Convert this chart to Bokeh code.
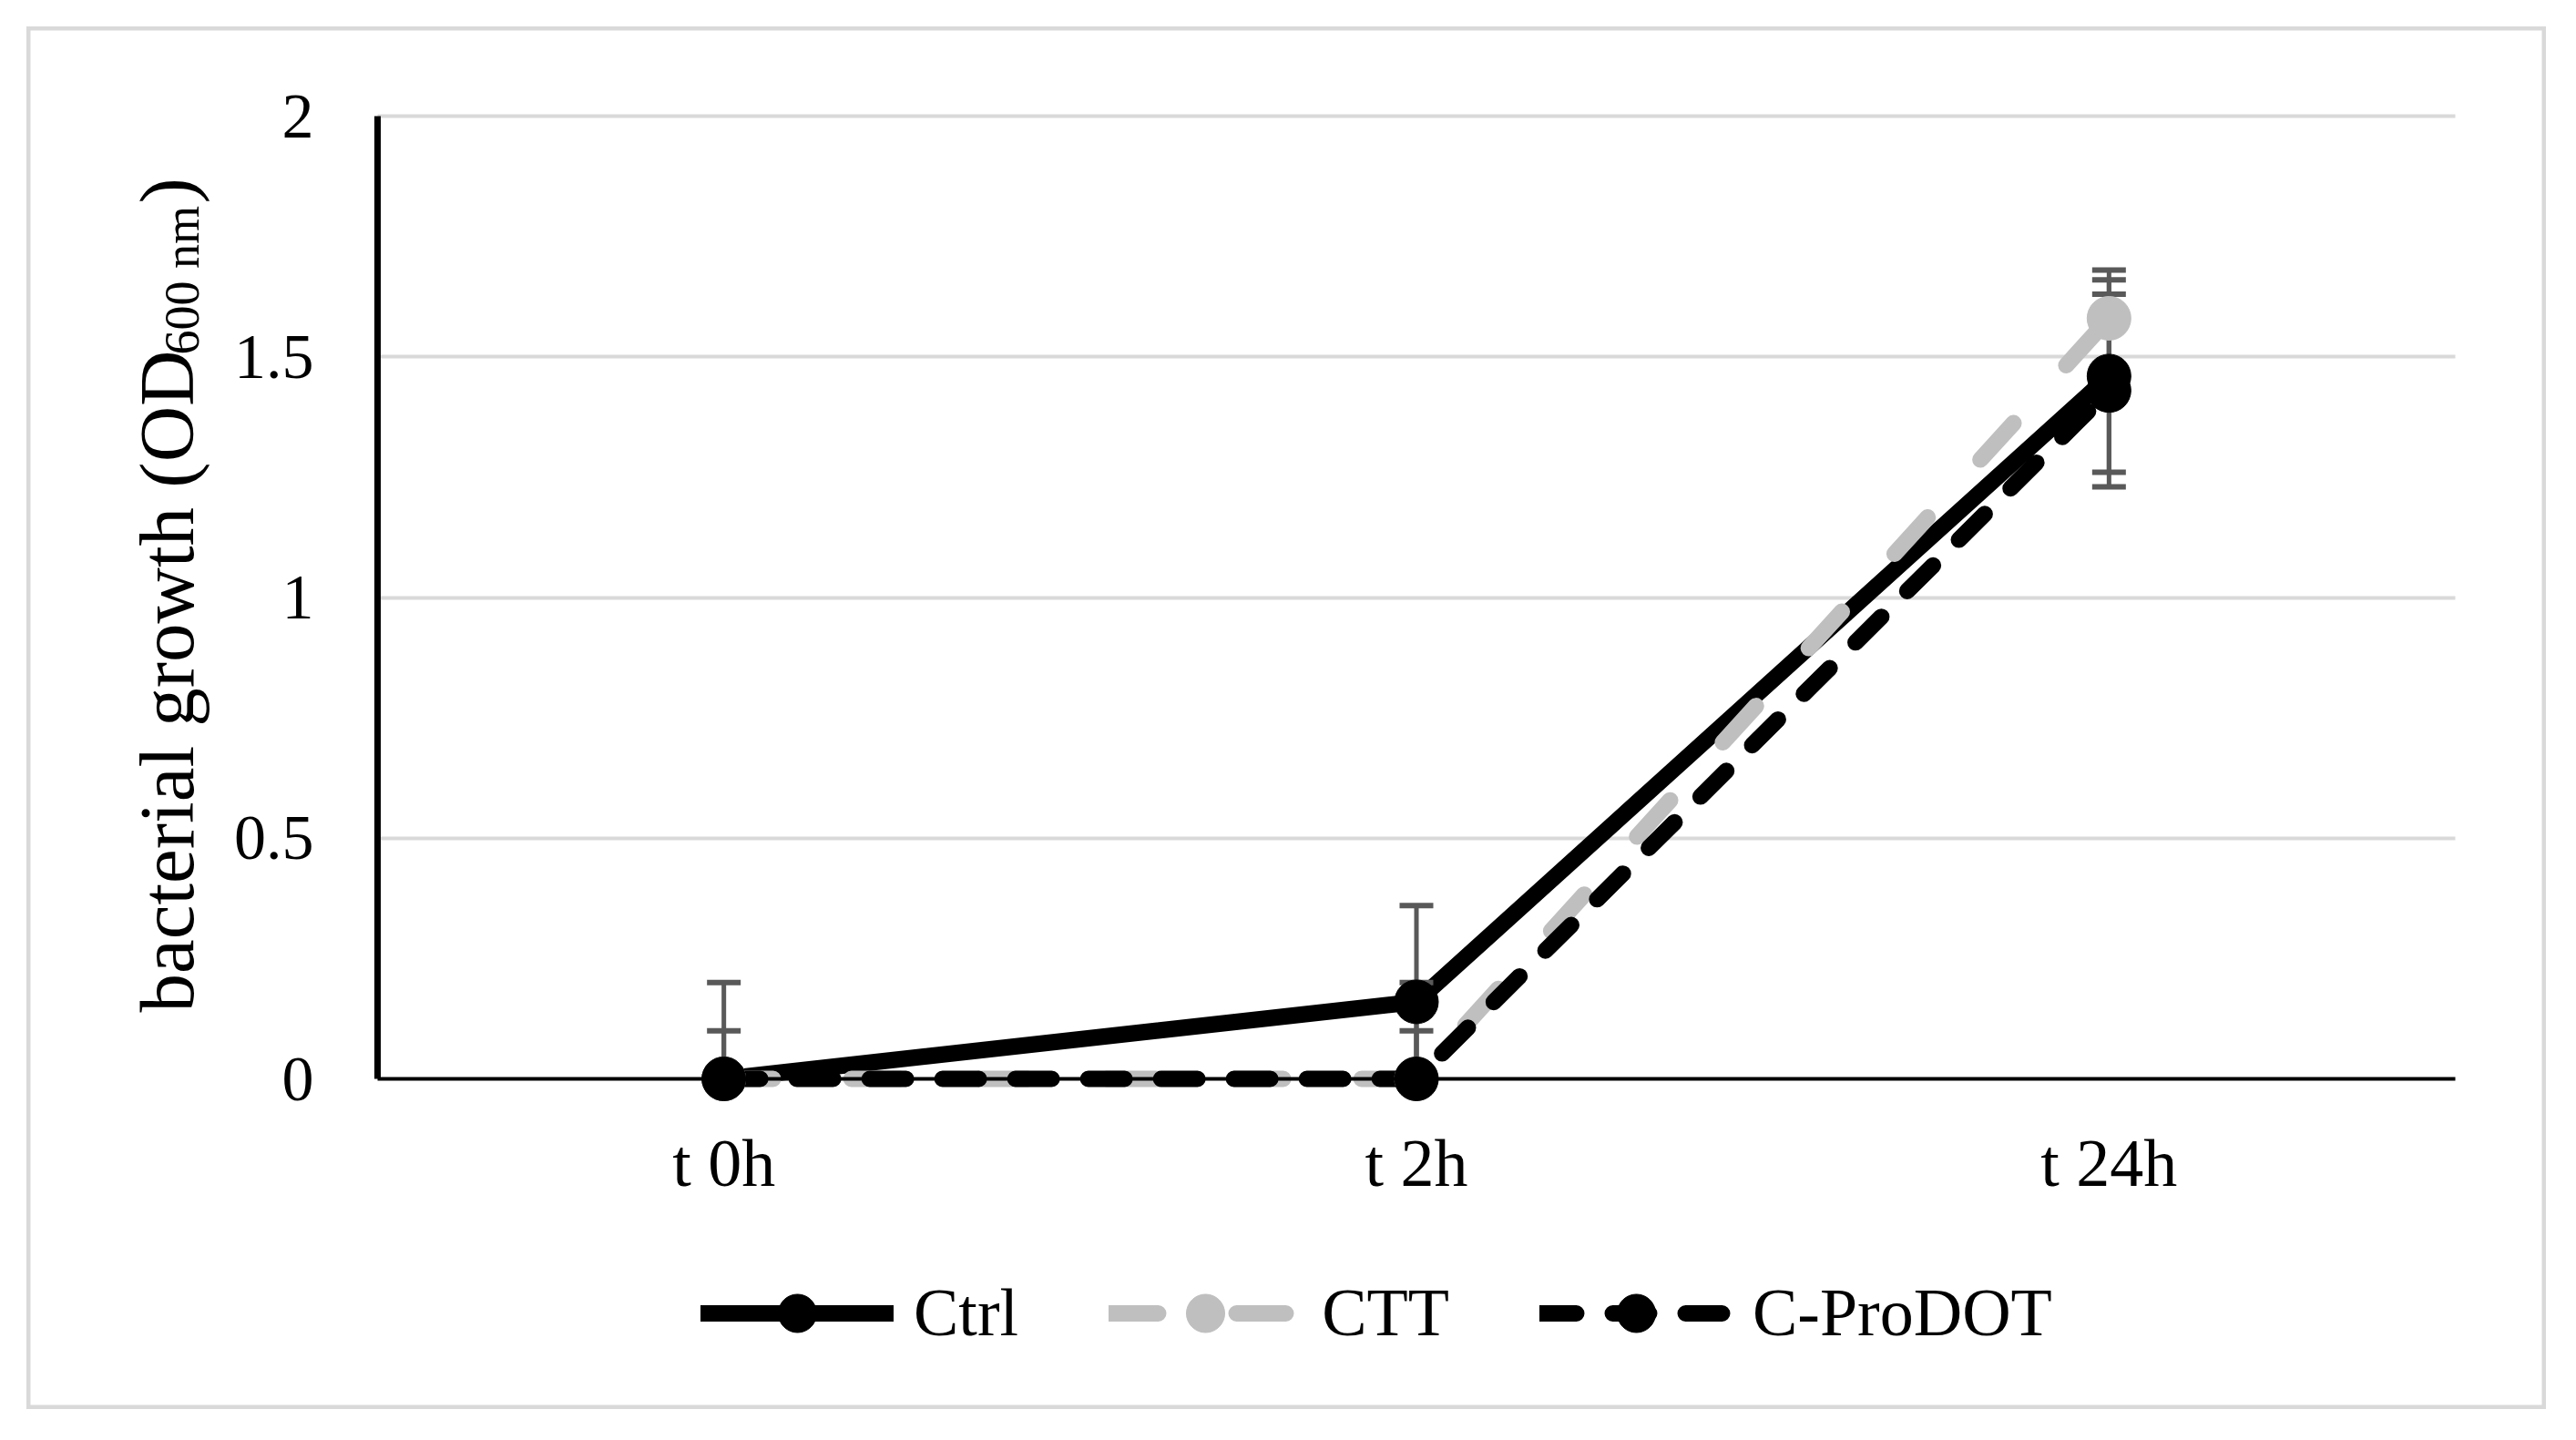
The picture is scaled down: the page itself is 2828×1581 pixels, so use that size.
import numpy as np
from bokeh.plotting import figure
from bokeh.models import (ColumnDataSource, Range1d, FixedTicker,
                          Legend, LegendItem, Label)
from bokeh.embed import file_html
from bokeh.resources import INLINE

# ---------------- data ----------------
categories = ["t 0h", "t 2h", "t 24h"]
series_names = ["Ctrl", "CTT", "C-ProDOT"]
ctrl = [0.0, 0.16, 1.46]
ctrl_err = [0.2, 0.2, 0.2]
ctt = [0.0, 0.0, 1.58]
ctt_err = [0.1, 0.2, 0.1]
cprodot = [0.0, 0.0, 1.43]
cprodot_err = [0.0, 0.1, 0.2]
y_ticks = [0, 0.5, 1, 1.5, 2]
y_tick_labels = ["0", "0.5", "1", "1.5", "2"]
y_title_main = "bacterial growth (OD"
y_title_sub = "600 nm"
y_title_end = ")"

# ---------------- layout / styles ----------------
FONT = "Liberation Serif"
BLACK = "#000000"
GRAY = "#BFBFBF"
ERR = "#595959"
GRID = "#D9D9D9"
LW = 18
MSIZE = 48

W, H = 2766, 1518                       # figure (outer chart box)
PL, PR, PT, PB = 385, 2666, 98, 1155     # plot area inside the figure, px
n_cat = len(categories)
y_min, y_max = y_ticks[0], y_ticks[-1]
ux = (PR - PL) / n_cat
uy = (PB - PT) / (y_max - y_min)
x_lo, x_hi = -0.5, n_cat - 0.5
x_range = Range1d(x_lo - PL / ux, x_hi + (W - PR) / ux)
y_range = Range1d(y_min - (H - PB) / uy, y_max + PT / uy)

p = figure(x_range=x_range, y_range=y_range, width=W, height=H,
           output_backend="svg", toolbar_location=None, title=None,
           min_border=0)
p.margin = (29, 0, 0, 29)
p.background_fill_color = "white"
p.border_fill_color = "white"
p.outline_line_color = GRID
p.outline_line_width = 8

x_pos = list(range(n_cat))

# grid
p.xgrid.grid_line_color = None
yg = p.ygrid[0]
yg.ticker = FixedTicker(ticks=y_ticks[1:])
yg.grid_line_color = GRID
yg.grid_line_width = 4
if "cross_bounds" in yg.properties():
    yg.cross_bounds = (x_lo, x_hi)
else:
    yg.grid_line_color = None
    p.segment(x0=[x_lo] * 4, x1=[x_hi] * 4, y0=y_ticks[1:], y1=y_ticks[1:],
              line_color=GRID, line_width=4)

# axes (drawn at the plot-area edges)
xa = p.xaxis[0]
xa.fixed_location = y_min
xa.bounds = (x_lo, x_hi)
xa.ticker = FixedTicker(ticks=x_pos)
xa.major_label_overrides = {i: c for i, c in zip(x_pos, categories)}
xa.axis_line_color = BLACK
xa.axis_line_width = 4
xa.major_tick_line_color = None
xa.minor_tick_line_color = None
xa.major_tick_in = 0
xa.major_tick_out = 0
xa.major_label_text_font = FONT
xa.major_label_text_font_size = "74px"
xa.major_label_text_color = BLACK
xa.major_label_standoff = 51

ya = p.yaxis[0]
ya.fixed_location = x_lo
ya.bounds = (y_min, y_max)
ya.ticker = FixedTicker(ticks=y_ticks)
ya.major_label_overrides = {t: l for t, l in zip(y_ticks, y_tick_labels)}
ya.axis_line_color = BLACK
ya.axis_line_width = 7
ya.major_tick_line_color = None
ya.minor_tick_line_color = None
ya.major_tick_in = 0
ya.major_tick_out = 0
ya.major_label_text_font = FONT
ya.major_label_text_font_size = "70px"
ya.major_label_text_color = BLACK
ya.major_label_standoff = 70

# ---------------- sources ----------------
def src(vals):
    return ColumnDataSource(dict(x=x_pos, y=vals))

s_ctrl, s_ctt, s_cp = src(ctrl), src(ctt), src(cprodot)

# lines
l_ctrl = p.line("x", "y", source=s_ctrl, line_color=BLACK, line_width=LW,
                line_join="round", line_cap="round")
l_ctt = p.line("x", "y", source=s_ctt, line_color=GRAY, line_width=LW,
               line_dash="54 86", line_join="round", line_cap="round")
l_cp = p.line("x", "y", source=s_cp, line_color=BLACK, line_width=LW,
              line_dash="40 40", line_join="round", line_cap="round")

# error bars (clipped at the axis minimum, as in the original chart)
e_x, e_lo, e_hi = [], [], []
cap_x, cap_y = [], []
for vals, errs in ((ctrl, ctrl_err), (ctt, ctt_err), (cprodot, cprodot_err)):
    for xi, v, e in zip(x_pos, vals, errs):
        if e <= 0:
            continue
        lo, hi = v - e, v + e
        e_x.append(xi)
        e_lo.append(max(lo, y_min))
        e_hi.append(hi)
        cap_x.append(xi)
        cap_y.append(hi)
        if lo >= y_min:
            cap_x.append(xi)
            cap_y.append(lo)

es = ColumnDataSource(dict(x=e_x, lo=e_lo, hi=e_hi))
p.segment(x0="x", y0="lo", x1="x", y1="hi", source=es,
          line_color=ERR, line_width=5)
cs = ColumnDataSource(dict(x=cap_x, y=cap_y))
p.scatter("x", "y", source=cs, marker="dash", size=37,
          line_color=ERR, line_width=6)

# markers
m_ctrl = p.scatter("x", "y", source=s_ctrl, marker="circle", size=MSIZE,
                   fill_color=BLACK, line_color=BLACK)
m_ctt = p.scatter("x", "y", source=s_ctt, marker="circle", size=MSIZE,
                  fill_color=GRAY, line_color=GRAY)
m_cp = p.scatter("x", "y", source=s_cp, marker="circle", size=MSIZE,
                 fill_color=BLACK, line_color=BLACK)

# legend under the category axis
legend = Legend(items=[LegendItem(label=series_names[0], renderers=[l_ctrl, m_ctrl]),
                       LegendItem(label=series_names[1], renderers=[l_ctt, m_ctt]),
                       LegendItem(label=series_names[2], renderers=[l_cp, m_cp])],
                orientation="horizontal", location=(740, 53),
                glyph_width=212, glyph_height=105, label_height=105,
                label_standoff=22, spacing=99, padding=0, margin=0,
                border_line_color=None, background_fill_alpha=0,
                label_text_font=FONT, label_text_font_size="74px",
                label_text_color=BLACK, label_text_baseline="middle")
p.add_layout(legend, "center")

# y title with subscript
common = dict(x_units="screen", y_units="screen", angle=np.pi / 2,
              text_font=FONT, text_color=BLACK, text_align="left",
              text_baseline="alphabetic")
p.add_layout(Label(x=153, y=436, text=y_title_main, text_font_size="85px", **common))
p.add_layout(Label(x=170, y=1158, text=y_title_sub, text_font_size="54px", **common))
p.add_layout(Label(x=153, y=1324, text=y_title_end, text_font_size="85px", **common))

open("out.html", "w").write(file_html(p, INLINE))
